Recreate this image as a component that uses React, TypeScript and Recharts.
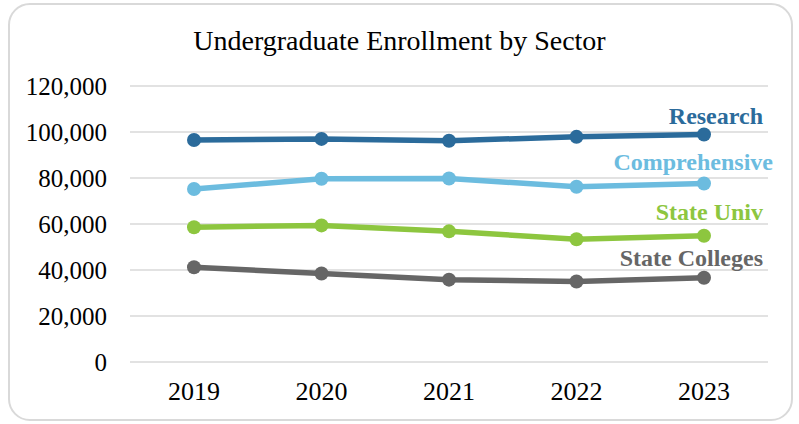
import { LineChart, Line, XAxis, YAxis, CartesianGrid } from 'recharts'

// ─── Data ──────────────────────────────────────────────────────────────────────

const YEARS = ['2019', '2020', '2021', '2022', '2023']
const RESEARCH = [96500, 97000, 96200, 97900, 98900]
const COMPREHENSIVE = [75200, 79700, 79800, 76200, 77600]
const STATE_UNIV = [58600, 59400, 56800, 53400, 54900]
const STATE_COLLEGES = [41200, 38500, 35800, 35000, 36600]
const Y_TICKS = [0, 20000, 40000, 60000, 80000, 100000, 120000]

const SERIES = [
  { key: 'research', name: 'Research', values: RESEARCH, color: '#2b6b9b', dx: 59, dy: -11 },
  { key: 'comprehensive', name: 'Comprehensive', values: COMPREHENSIVE, color: '#6cbcdf', dx: 69, dy: -14 },
  { key: 'stateUniv', name: 'State Univ', values: STATE_UNIV, color: '#8dc63f', dx: 59, dy: -16 },
  { key: 'stateColleges', name: 'State Colleges', values: STATE_COLLEGES, color: '#666666', dx: 59, dy: -12 },
]

const data = YEARS.map((year, i) => {
  const row: Record<string, string | number> = { year }
  SERIES.forEach((s) => { row[s.key] = s.values[i] })
  return row
})

const FONT = '"Liberation Serif", "DejaVu Serif", serif'

// ─── End label (last point only) ──────────────────────────────────────────────

function endLabel(name: string, color: string, dx: number, dy: number) {
  return (props: any) => {
    const { x, y, index } = props
    if (index !== YEARS.length - 1) return null
    return (
      <text
        x={x + dx}
        y={y + dy}
        textAnchor="end"
        fill={color}
        fontFamily={FONT}
        fontWeight="bold"
        fontSize={24}
      >
        {name}
      </text>
    )
  }
}

// ─── Component ────────────────────────────────────────────────────────────────

export default function App() {
  return (
    <div style={{ position: 'absolute', left: 0, top: 0, width: 799, height: 424, background: '#fff' }}>
      <div
        style={{
          position: 'absolute',
          left: 8,
          top: 3,
          width: 781,
          height: 414,
          border: '2px solid #d9d9d9',
          borderRadius: 22,
        }}
      />
      <div
        style={{
          position: 'absolute',
          top: 25,
          left: 0,
          width: 799,
          textAlign: 'center',
          fontFamily: FONT,
          fontSize: 28,
          lineHeight: '32px',
          color: '#000',
        }}
      >
        Undergraduate Enrollment by Sector
      </div>
      <LineChart
        width={799}
        height={424}
        data={data}
        margin={{ top: 86, right: 31, bottom: 0, left: 0 }}
        style={{ position: 'absolute', left: 0, top: 0 }}
      >
        <CartesianGrid vertical={false} stroke="#d9d9d9" strokeWidth={1.5} />
        <XAxis
          dataKey="year"
          axisLine={false}
          tickLine={false}
          height={62}
          tickMargin={14}
          padding={{ left: 64, right: 64 }}
          tick={{ fontSize: 26, fill: '#000', fontFamily: FONT }}
        />
        <YAxis
          domain={[0, 120000]}
          ticks={Y_TICKS}
          width={130}
          axisLine={false}
          tickLine={false}
          tickMargin={17}
          tickFormatter={(v: number) => v.toLocaleString('en-US')}
          tick={{ fontSize: 25, fill: '#000', fontFamily: FONT }}
        />
        {SERIES.map((s) => (
          <Line
            key={s.key}
            dataKey={s.key}
            stroke={s.color}
            strokeWidth={5.5}
            dot={{ r: 7, fill: s.color, stroke: s.color, strokeWidth: 0 }}
            isAnimationActive={false}
            label={endLabel(s.name, s.color, s.dx, s.dy)}
          />
        ))}
      </LineChart>
    </div>
  )
}
